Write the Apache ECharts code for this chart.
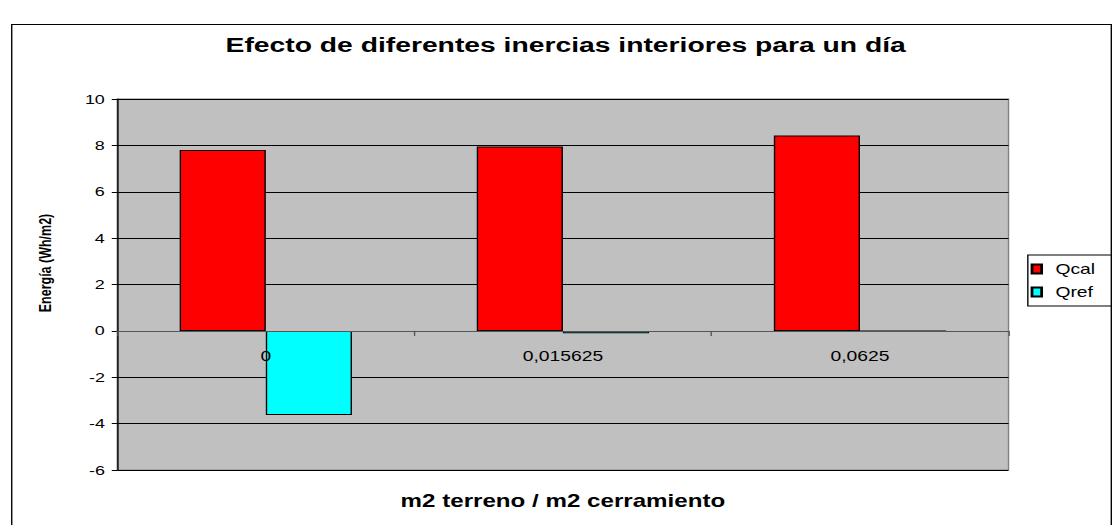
<!DOCTYPE html>
<html><head><meta charset="utf-8">
<script src="https://cdn.jsdelivr.net/npm/echarts@6/dist/echarts.min.js"></script>
<style>
html,body{margin:0;padding:0;background:#fff;overflow:hidden}
#wrap{width:1112px;height:525px;overflow:hidden}
#c{width:806px;height:525px;transform:scaleX(1.37965);transform-origin:0 0}
</style>
</head><body><div id="wrap"><div id="c"></div></div>
<script>
const categories = ['0', '0,015625', '0,0625'];
const qcal = [7.8, 7.95, 8.43];
const qref = [-3.63, -0.1, 0];
const seriesNames = ['Qcal', 'Qref'];
const yTicks = {min: -6, max: 10, interval: 2};

const chart = echarts.init(document.getElementById('c'), null, {renderer: 'svg'});
const font = 'Arial, "Liberation Sans", sans-serif';
const baseOption = {
  animation: false,
  backgroundColor: '#fff',
  title: {
    text: 'Efecto de diferentes inercias interiores para un día',
    left: 405, top: 29, textAlign: 'center',
    textStyle: {fontFamily: font, fontSize: 20.5, fontWeight: 'bold', color: '#000'}
  },
  graphic: [
    {type: 'rect', left: 6, top: 22, shape: {width: 797, height: 520},
     style: {fill: 'none', stroke: '#000', lineWidth: 1}, silent: true},
    {type: 'text', x: 32.6, y: 263, rotation: Math.PI / 2,
     style: {text: 'Energía (Wh/m2)', font: 'bold 12.5px Arial, "Liberation Sans", sans-serif',
       fill: '#000', align: 'center', verticalAlign: 'middle'}}
  ],
  legend: {
    data: seriesNames, orient: 'vertical', left: 745, top: 255,
    itemWidth: 7, itemHeight: 9, itemGap: 9,
    padding: [7, 12, 7, 2], borderColor: '#000', borderWidth: 1,
    textStyle: {fontFamily: font, fontSize: 14, color: '#000', padding: [0, 0, 0, 5]},
    icon: 'rect'
  },
  grid: {left: 85, right: 75, top: 99, bottom: 55, show: true,
    backgroundColor: '#C0C0C0', borderColor: '#808080', borderWidth: 1},
  xAxis: [{
    type: 'category', data: categories, position: 'bottom', offset: 0, z: 5,
    axisLine: {onZero: false, lineStyle: {color: '#555', width: 1}},
    axisTick: {show: true, inside: false, length: 5, lineStyle: {color: '#555'}},
    axisLabel: {fontFamily: font, fontSize: 14, color: '#000', margin: 19},
    splitLine: {show: false}
  }, {
    type: 'category', data: categories, position: 'bottom', offset: 0,
    name: 'm2 terreno / m2 cerramiento', nameLocation: 'middle', nameGap: 22,
    nameTextStyle: {fontFamily: font, fontSize: 17.5, fontWeight: 'bold', color: '#000'},
    axisLine: {show: false, onZero: false}, axisTick: {show: false}, axisLabel: {show: false},
    splitLine: {show: false}
  }],
  yAxis: {
    type: 'value', min: yTicks.min, max: yTicks.max, interval: yTicks.interval,
    axisLine: {show: true, lineStyle: {color: '#000'}},
    axisTick: {show: true, length: 4, lineStyle: {color: '#000'}},
    axisLabel: {fontFamily: font, fontSize: 13, color: '#000', margin: 9},
    splitLine: {show: true, lineStyle: {color: '#000', width: 1}}
  },
  series: [
    {name: seriesNames[0], type: 'bar', xAxisIndex: 0, data: qcal, barGap: '0%', barCategoryGap: '42%',
     itemStyle: {color: '#FF0000', borderColor: '#000', borderWidth: 1}},
    {name: seriesNames[1], type: 'bar', xAxisIndex: 0, data: qref, barGap: '0%', barCategoryGap: '42%',
     itemStyle: {color: '#00FFFF', borderColor: '#000', borderWidth: 1}}
  ]
};
chart.setOption(baseOption);
// move the category axis line and labels to the value 0 line
const zeroY = chart.convertToPixel({yAxisIndex: 0}, 0);
const bottomY = chart.convertToPixel({yAxisIndex: 0}, yTicks.min);
chart.setOption({xAxis: [{offset: zeroY - bottomY}, {}]});
</script></body></html>
